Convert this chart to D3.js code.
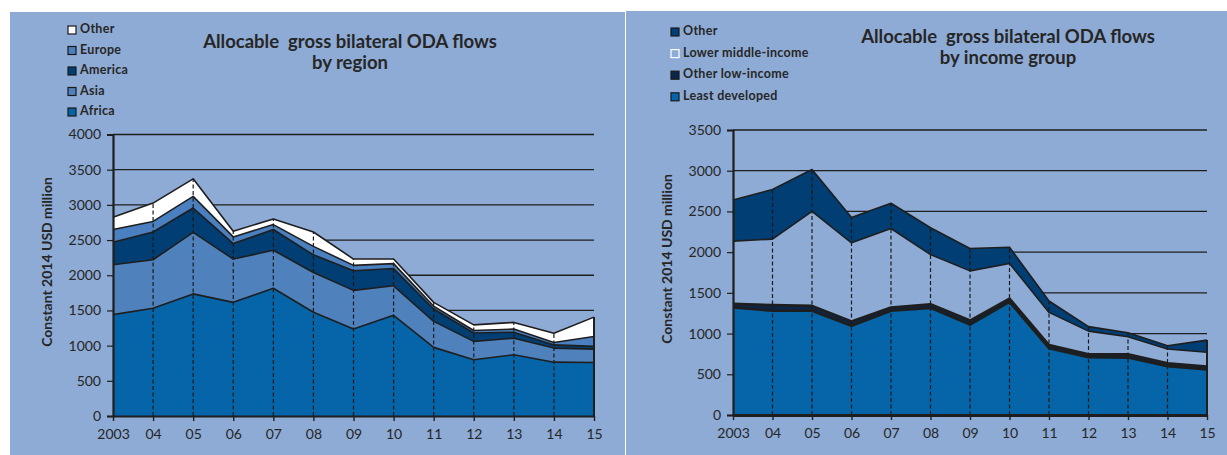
<!DOCTYPE html>
<html><head><meta charset="utf-8">
<script src="https://cdn.jsdelivr.net/npm/d3@7"></script>
<style>
html,body{margin:0;padding:0;background:#fff;}
svg{display:block;font-family:Lato,"Open Sans",sans-serif;}
</style></head>
<body>
<script>
const years = ["2003","04","05","06","07","08","09","10","11","12","13","14","15"];
// Left: by region (USD million, constant 2014)
const africa  = [1440,1530,1735,1615,1815,1475,1235,1430,975,800,870,765,760];
const asia    = [710,690,875,615,540,565,550,420,370,260,235,200,190];
const america = [320,395,345,220,295,250,280,245,175,120,85,45,40];
const europe  = [180,150,165,95,70,120,75,70,40,35,45,35,140];
const otherR  = [175,260,250,80,80,205,90,65,55,80,95,130,275];
const regionTicks = [0,500,1000,1500,2000,2500,3000,3500,4000];
// Right: by income group
const leastDev  = [1320,1280,1280,1095,1280,1315,1110,1390,820,710,705,600,560];
const otherLow  = [45,70,60,55,40,45,50,40,40,35,40,35,35];
const lowerMid  = [770,810,1160,965,970,610,610,430,400,285,215,175,175];
const otherI    = [505,610,515,310,310,330,275,200,140,55,50,40,150];
const incomeTicks = [0,500,1000,1500,2000,2500,3000,3500];

const W=1227,H=455,BG="#8eabd5",INK="#262626";
const svg=d3.select("body").append("svg").attr("width",W).attr("height",H);
svg.append("rect").attr("x",10).attr("y",12).attr("width",615).attr("height",H-12).attr("fill",BG);
svg.append("rect").attr("x",626).attr("y",11).attr("width",W-626).attr("height",H-11).attr("fill",BG);

function panel(o){
  const g=svg.append("g");
  const rows=years.map((y,i)=>{const r={year:y};o.series.forEach(s=>r[s.key]=s.values[i]);return r;});
  const keys=o.series.map(s=>s.key);
  const stack=d3.stack().keys(keys)(rows);
  const x=d3.scalePoint().domain(years).range([o.x0,o.x1]);
  const y=d3.scaleLinear().domain([0,o.ymax]).range([o.y0,o.y1]);
  // gridlines
  g.append("g").selectAll("line").data(o.ticks.slice(1)).join("line")
    .attr("x1",o.x0).attr("x2",o.x1).attr("y1",d=>y(d)).attr("y2",d=>y(d))
    .attr("stroke","#1e1e1e").attr("stroke-width",1.3);
  // areas
  const area=d3.area().x((d,i)=>x(years[i])).y0(d=>y(d[0])).y1(d=>y(d[1]));
  g.append("g").selectAll("path").data(stack).join("path")
    .attr("d",area).attr("fill",(d,i)=>o.series[i].fill);
  // dashed verticals
  const tot=stack[stack.length-1];
  g.append("g").selectAll("line").data(years.slice(1,-1)).join("line")
    .attr("x1",d=>x(d)).attr("x2",d=>x(d)).attr("y1",o.y0)
    .attr("y2",(d,i)=>y(tot[i+1][1]))
    .attr("stroke","#1a1a1a").attr("stroke-width",1.2).attr("stroke-dasharray","4,2.5");
  // boundary lines
  const line=d3.line().x((d,i)=>x(years[i])).y(d=>y(d[1]));
  g.append("g").selectAll("path").data(stack).join("path")
    .attr("d",line).attr("fill","none").attr("stroke","#1e1e1e")
    .attr("stroke-width",(d,i)=>o.series[i].sw||1.6).attr("stroke-linejoin","round");
  // right edge
  g.append("line").attr("x1",o.x1).attr("x2",o.x1).attr("y1",o.y0).attr("y2",y(tot[tot.length-1][1]))
    .attr("stroke","#1e1e1e").attr("stroke-width",2);
  // axes
  const ya=g.append("g").attr("transform",`translate(${o.x0},0)`)
    .call(d3.axisLeft(y).tickValues(o.ticks).tickSize(6).tickPadding(6).tickFormat(d3.format("d")));
  ya.select(".domain").attr("stroke","#1e1e1e").attr("stroke-width",2.2);
  ya.selectAll(".tick line").attr("stroke","#1e1e1e").attr("stroke-width",1.2);
  ya.selectAll("text").attr("font-size",14).attr("fill",INK).attr("font-family","Lato,sans-serif");
  const xa=g.append("g").attr("transform",`translate(0,${o.y0})`)
    .call(d3.axisBottom(x).tickSize(5).tickPadding(8).tickSizeOuter(0));
  xa.select(".domain").attr("stroke","#1e1e1e").attr("stroke-width",o.xw);
  xa.selectAll(".tick line").attr("stroke","#1e1e1e").attr("stroke-width",1.4);
  xa.selectAll("text").attr("font-size",14).attr("fill",INK).attr("font-family","Lato,sans-serif");
  // y label
  g.append("text").attr("transform",`translate(${o.ylx},${o.yly}) rotate(-90)`)
    .attr("text-anchor","middle").attr("dominant-baseline","middle")
    .attr("font-size",14).attr("font-weight","bold").attr("fill",INK)
    .text("Constant 2014 USD million");
  // title
  o.title.forEach((t,i)=>g.append("text").attr("x",o.tx).attr("y",o.ty+i*21)
    .style("white-space","pre")
    .attr("text-anchor","middle").attr("font-size",18.5).attr("font-weight","bold").attr("fill",INK).text(t));
  // legend
  o.legend.forEach((l,i)=>{
    const ly=o.ly0+i*o.lstep;
    g.append("rect").attr("x",o.lx).attr("y",ly-4).attr("width",8).attr("height",8)
      .attr("fill",l.fill).attr("stroke",l.stroke||"#1a1a1a").attr("stroke-width",1.2);
    g.append("text").attr("x",o.lx+12).attr("y",ly).attr("dominant-baseline","middle")
      .attr("font-size",12.5).attr("letter-spacing",0.3).attr("font-weight","bold").attr("fill",INK).text(l.label);
  });
}

const cAfrica="#0665a9",cAsia="#4f81bd",cAmerica="#003e74",cEurope="#4b80c0",cOther="#ffffff";
panel({
  series:[{key:"Africa",values:africa,fill:cAfrica},{key:"Asia",values:asia,fill:cAsia},
          {key:"America",values:america,fill:cAmerica},{key:"Europe",values:europe,fill:cEurope},
          {key:"Other",values:otherR,fill:cOther}],
  x0:113,x1:594,y0:416,y1:134.5,ymax:4000,ticks:regionTicks,xw:2.2,
  ylx:48,yly:262,title:["Allocable  gross bilateral ODA flows","by region"],tx:350,ty:48,
  lx:68,ly0:30,lstep:20.5,
  legend:[{label:"Other",fill:cOther},{label:"Europe",fill:cEurope},{label:"America",fill:cAmerica},
          {label:"Asia",fill:cAsia},{label:"Africa",fill:cAfrica}]
});
const cLDC="#0665a9",cOLI="#0d2546",cLMI=BG,cOth="#003e74";
panel({
  series:[{key:"Least developed",values:leastDev,fill:cLDC,sw:2.6},{key:"Other low-income",values:otherLow,fill:cOLI,sw:2.6},
          {key:"Lower middle-income",values:lowerMid,fill:cLMI},{key:"Other",values:otherI,fill:cOth}],
  x0:733,x1:1207,y0:415,y1:130,ymax:3500,ticks:incomeTicks,xw:3.2,
  ylx:668,yly:259,title:["Allocable  gross bilateral ODA flows","by income group"],tx:1008,ty:43,
  lx:671,ly0:32,lstep:21.6,
  legend:[{label:"Other",fill:cOth},{label:"Lower middle-income",fill:BG,stroke:"#ffffff"},
          {label:"Other low-income",fill:cOLI},{label:"Least developed",fill:cLDC}]
});
</script>
</body></html>
